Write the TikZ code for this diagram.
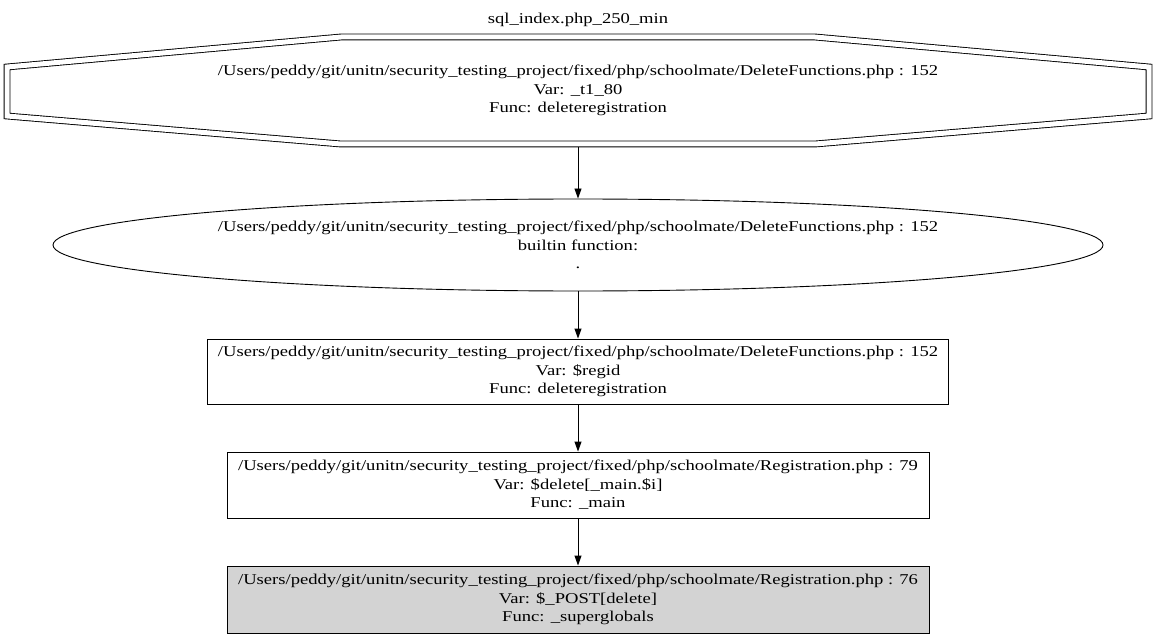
\documentclass[tikz,border=0pt]{standalone}
\usepackage{fontspec}
\setmainfont[FakeStretch=1.24]{Liberation Serif}
\usetikzlibrary{arrows.meta,shapes.geometric}

\begin{document}
\begin{tikzpicture}[x=1pt, y=-1pt,
    lbl/.style={align=center, font=\fontsize{15}{18.5}\selectfont},
    stepbox/.style={lbl, draw, rectangle, line width=0.9pt, inner sep=0pt},
    arr/.style={line width=0.9pt, -{Triangle[length=10pt,width=7pt]}}]
            \useasboundingbox (0,0) rectangle (1156,639);
            % title of the graph
            \node [lbl] (title) at (578,20) {sql\_index.php\_250\_min};
            % sink: double octagon
            \draw [line width=0.9pt, double, double distance=5pt] (341,37) -- (815,37) -- (1149,67) -- (1149,116)
                  -- (815,144) -- (341,144) -- (7,116) -- (7,67) -- cycle;
            \node [lbl, minimum width=1148pt, minimum height=113pt, inner sep=0pt] (sink) at (578,90.5)
                  {/Users/peddy/git/unitn/security\_testing\_project/fixed/php/schoolmate/DeleteFunctions.php : 152\\
                   Var: \_t1\_80\\ Func: deleteregistration};
            % builtin function
            \node [lbl, draw, ellipse, line width=0.9pt, inner sep=0pt, minimum width=1050pt, minimum height=92pt] (builtin) at (578,245)
                  {/Users/peddy/git/unitn/security\_testing\_project/fixed/php/schoolmate/DeleteFunctions.php : 152\\
                   builtin function:\\ .};
            % variables
            \node [stepbox, minimum width=741pt, minimum height=65pt] (regid) at (578,371.5)
                  {/Users/peddy/git/unitn/security\_testing\_project/fixed/php/schoolmate/DeleteFunctions.php : 152\\
                   Var: \$regid\\ Func: deleteregistration};
            \node [stepbox, minimum width=702pt, minimum height=66pt] (delete) at (578,485)
                  {/Users/peddy/git/unitn/security\_testing\_project/fixed/php/schoolmate/Registration.php : 79\\
                   Var: \$delete[\_main.\$i]\\ Func: \_main};
            \node [stepbox, fill={rgb,255:red,211;green,211;blue,211}, minimum width=702pt, minimum height=67pt] (post) at (578,599.5)
                  {/Users/peddy/git/unitn/security\_testing\_project/fixed/php/schoolmate/Registration.php : 76\\
                   Var: \$\_POST[delete]\\ Func: \_superglobals};
            % edges
            \draw [arr] (sink.south) -- (builtin.north);
            \draw [arr] (builtin.south) -- (regid.north);
            \draw [arr] (regid.south) -- (delete.north);
            \draw [arr] (delete.south) -- (post.north);
\end{tikzpicture}
\end{document}
